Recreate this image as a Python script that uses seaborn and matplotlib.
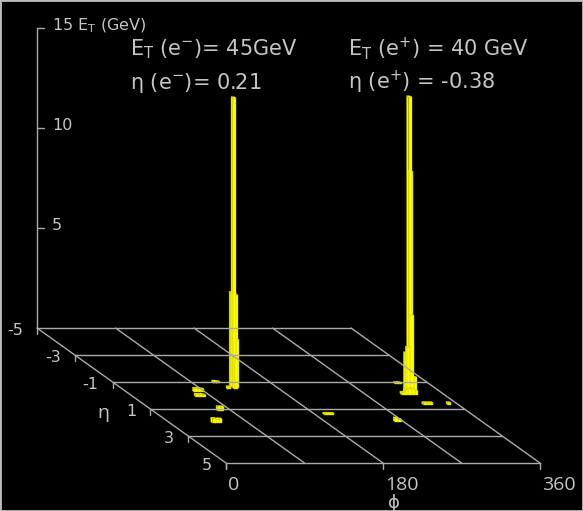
import numpy as np
import pandas as pd
import matplotlib
matplotlib.use("Agg")
import matplotlib.pyplot as plt
from matplotlib.collections import PolyCollection
from matplotlib.patches import Rectangle
import seaborn as sns

# ---- event content ------------------------------------------------------
# lego cells: lower phi edge (deg), lower eta edge, transverse energy (GeV)
# electron cluster
ele_phi = [128.2, 128.2, 131.95, 131.95, 128.2, 120.3]
ele_eta = [-0.65, -0.75, -0.75, -0.65, -0.55, -0.55]
ele_et = [14.5, 4.7, 4.6, 2.4, 1.55, 0.12]

# positron cluster
pos_phi = [323.1, 326.85, 323.1, 319.35, 319.35, 326.85, 320.8, 324.55,
           311.0, 314.75, 318.5, 322.25, 326.0]
pos_eta = [-0.35, -0.45, -0.25, -0.25, -0.35, -0.25, -0.95, -0.95,
           -0.15, -0.15, -0.15, -0.15, -0.15]
pos_et = [14.75, 10.95, 3.9, 2.3, 1.95, 0.8, 0.06, 0.06,
          0.12, 0.25, 0.3, 0.3, 0.2]

# low-energy deposits elsewhere
low_phi = [77.5, 81.25, 85.0, 71.7, 75.45, 79.2, 113.6, 117.35, 74.2, 77.95,
           48.6, 52.35, 56.1, 319.8, 323.55, 327.3, 347.6, 190.0, 193.75,
           197.5, 260.0, 263.75]
low_eta = [-0.35, -0.35, -0.35, 0.0, 0.0, 0.0, -1.0, -1.0, 1.05, 1.05,
           1.95, 1.95, 1.95, 0.6, 0.6, 0.6, 0.6, 1.35, 1.35, 1.35, 1.85, 1.85]
low_et = [0.18, 0.18, 0.15, 0.12, 0.12, 0.1, 0.1, 0.08, 0.2, 0.2,
          0.23, 0.2, 0.2, 0.1, 0.1, 0.1, 0.1, 0.08, 0.08, 0.08, 0.18, 0.12]

PHI_BIN = 3.75   # cell size in phi (deg)
ETA_BIN = 0.1    # cell size in eta

# axis ticks / grid
phi_grid = [0, 90, 180, 270, 360]
phi_ticks = [0, 180, 360]
eta_ticks = [-5, -3, -1, 1, 3, 5]
et_ticks = [5, 10, 15]

# reconstructed lepton quantities
e_minus_et, e_minus_eta = 45, 0.21
e_plus_et, e_plus_eta = 40, -0.38

# ---- style --------------------------------------------------------------
sns.set_theme(style="dark", rc={
    "figure.facecolor": "black",
    "axes.facecolor": "black",
    "savefig.facecolor": "black",
})
plt.rcParams["font.family"] = ["DejaVu Sans"]
plt.rcParams["mathtext.fontset"] = "custom"
plt.rcParams["mathtext.rm"] = "DejaVu Sans"
plt.rcParams["mathtext.it"] = "DejaVu Sans:italic"

TXT = "#c6c6c6"
GRID = "#ababab"
TICK_FONT = ["DejaVu Sans"]
PHI_FONT = ["Open Sans", "DejaVu Sans"]

# ---- oblique lego projection (canvas units) ------------------------------
ORIGIN = (226.0, 463.0)      # position of phi=0, eta=+5, Et=0
PX_PHI = 0.8722              # per degree of phi
PX_ETA = (18.9, 13.5)        # per unit of eta (receding axis)
PX_ET = 20.0                 # per GeV


def proj(phi, eta, et=0.0):
    x = ORIGIN[0] + PX_PHI * np.asarray(phi, float) + PX_ETA[0] * (np.asarray(eta, float) - 5)
    y = ORIGIN[1] + PX_ETA[1] * (np.asarray(eta, float) - 5) - PX_ET * np.asarray(et, float)
    return x, y


fig = plt.figure(figsize=(5.83, 5.11), dpi=100)
ax = fig.add_axes([0, 0, 1, 1])

# ---- floor grid, axes and ticks -----------------------------------------
rows = []


def seg(name, p0, p1):
    rows.append({"x": float(p0[0]), "y": float(p0[1]), "line": name})
    rows.append({"x": float(p1[0]), "y": float(p1[1]), "line": name})


for e in eta_ticks:
    seg(f"eta{e}", proj(0, e), proj(360, e))
    x, y = proj(0, e)
    seg(f"etatick{e}", (x, y), (x, y + 6))
for p in phi_grid:
    seg(f"phi{p}", proj(p, -5), proj(p, 5))
for p in phi_ticks:
    x, y = proj(p, 5)
    seg(f"phitick{p}", (x, y), (x, y + 6))
seg("etaxis", proj(0, -5, 0), proj(0, -5, max(et_ticks)))
for t in et_ticks:
    x, y = proj(0, -5, t)
    seg(f"ettick{t}", (x, y), (x + 7, y))

grid = pd.DataFrame(rows)
sns.lineplot(data=grid, x="x", y="y", units="line", estimator=None, sort=False,
             color=GRID, linewidth=1.0, ax=ax)

# ---- towers ---------------------------------------------------------------
phi = np.array(ele_phi + pos_phi + low_phi)
eta = np.array(ele_eta + pos_eta + low_eta)
et = np.array(ele_et + pos_et + low_et)
order = np.lexsort((-phi, eta))   # back rows first, right to left

polys, faces = [], []
for i in order:
    p0, p1 = phi[i], phi[i] + PHI_BIN
    e0, e1 = eta[i], eta[i] + ETA_BIN
    h = et[i]
    left = [proj(p0, e1, 0), proj(p0, e0, 0), proj(p0, e0, h), proj(p0, e1, h)]
    front = [proj(p0, e1, 0), proj(p1, e1, 0), proj(p1, e1, h), proj(p0, e1, h)]
    top = [proj(p0, e1, h), proj(p1, e1, h), proj(p1, e0, h), proj(p0, e0, h)]
    polys += [left, front, top]
    faces += ["#f8f800", "#ffff00", "#ffff10"]

ax.add_collection(PolyCollection(polys, facecolors=faces, edgecolors="#cccc00",
                                 linewidths=0.3))

# ---- labels -------------------------------------------------------------
for e in eta_ticks:
    x, y = proj(0, e)
    ax.text(x - 14, y + 2.5, f"{e}", color=TXT, fontsize=11.5, ha="right",
            va="center", family=TICK_FONT)
for p in phi_ticks:
    x, y = proj(p, 5)
    ax.text(x + 2, y + 22, f"{p}", color=TXT, fontsize=14, ha="left",
            va="center", family=PHI_FONT)
for t in et_ticks:
    x, y = proj(0, -5, t)
    lab = f"{t}" if t != max(et_ticks) else f"{t} E$_\\mathrm{{T}}$ (GeV)"
    ax.text(x + 15, y - 2, lab, color=TXT, fontsize=11.5, ha="left",
            va="center", family=TICK_FONT)

ax.text(103, 413, "η", color=TXT, fontsize=14, ha="center", va="center",
        family=PHI_FONT)
ax.text(394, 503, "ϕ", color=TXT, fontsize=13, ha="center", va="center",
        family=["DejaVu Sans"])

big = dict(color=TXT, fontsize=15, ha="left", va="baseline")
ax.text(130, 55, f"E$_\\mathrm{{T}}$ (e$^{{-}}$)= {e_minus_et}GeV", **big)
ax.text(130, 89, f"η (e$^{{-}}$)= {e_minus_eta}", **big)
ax.text(348, 55, f"E$_\\mathrm{{T}}$ (e$^{{+}}$) = {e_plus_et} GeV", **big)
ax.text(348, 89, f"η (e$^{{+}}$) = {e_plus_eta}", **big)

ax.set_xlim(0, 583)
ax.set_ylim(511, 0)
ax.axis("off")

fig.patches.append(Rectangle((0, 0), 1, 1, transform=fig.transFigure, fill=False,
                             edgecolor="#bdbdbd", linewidth=2.0))

fig.savefig("out.png", dpi=100, facecolor="black")
